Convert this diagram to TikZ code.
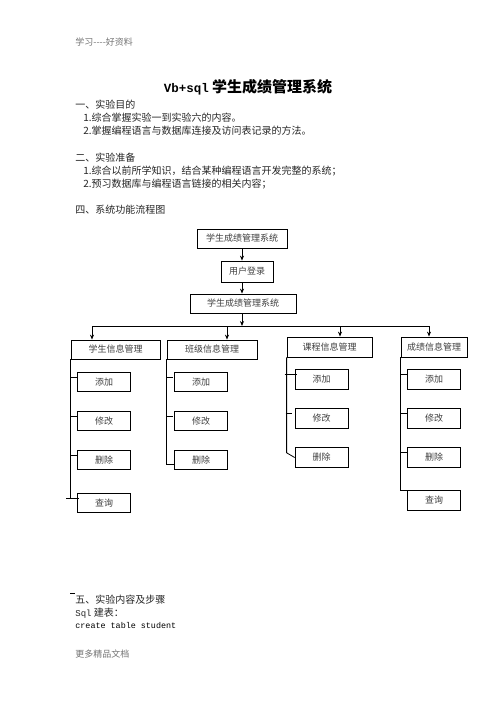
\documentclass[tikz,border=0pt]{standalone}
\usepackage{fontspec}
\setmainfont{Noto Sans CJK SC}
\newfontfamily\codefont{Liberation Mono}
\usepackage{tikz}
\usetikzlibrary{arrows.meta,arrows}
\usetikzlibrary{positioning}
\usetikzlibrary{calc}

\begin{document}
\begin{tikzpicture}[x=1pt,y=-1pt,>={Stealth[length=5pt,width=4pt]},node distance=39pt,line width=0.8pt]
 \tikzstyle{box node}=[rectangle,draw,inner sep=1,font=\fontsize{9}{10}\selectfont,text=black!75,minimum height=19pt]
 \tikzstyle{sub node}=[rectangle,draw,inner sep=1,font=\fontsize{9}{10}\selectfont,text=black!75,minimum width=53pt,minimum height=19.5pt]
 \tikzset{
 	line node/.style={anchor=west,inner sep=0,font=\fontsize{10}{12}\selectfont,text=black!85},
 	grey node/.style={anchor=west,inner sep=0,font=\fontsize{9}{11}\selectfont,text=black!55}
 }
 \path[use as bounding box,fill=white] (0,0) rectangle (496,702);

 % page text
       \node[grey node] (head) at (75,42) {学习-{}-{}-{}-好资料};
       \node (title) at (248,87) {\fontsize{15}{18}\selectfont\bfseries{\codefont\fontsize{12.5}{15}\selectfont Vb+sql} 学生成绩管理系统};
       \node[line node] (p1) at (75,105) {一、实验目的};
       \node[line node] (p1a) at (83,118) {1.综合掌握实验一到实验六的内容。};
       \node[line node] (p1b) at (83,131) {2.掌握编程语言与数据库连接及访问表记录的方法。};
       \node[line node] (p2) at (75,158) {二、实验准备};
       \node[line node] (p2a) at (83,171) {1.综合以前所学知识，结合某种编程语言开发完整的系统；};
       \node[line node] (p2b) at (83,184) {2.预习数据库与编程语言链接的相关内容；};
       \node[line node] (p4) at (75,210) {四、系统功能流程图};

 % flow chart, top
       \node[box node,minimum width=90pt] (s1) at (242,238.5) {学生成绩管理系统};
       \node[box node,minimum width=52pt,minimum height=21pt] (s2) at (247,271.5) {用户登录};
       \node[box node,minimum width=106pt] (s3) at (243,303.5) {学生成绩管理系统};

       \node[box node,minimum width=89pt] (m1) at (115.5,349.5) {学生信息管理};
       \node[box node,minimum width=90pt] (m2) at (212,349.5) {班级信息管理};
       \node[box node,minimum width=85pt,minimum height=20pt] (m3) at (329.5,347) {课程信息管理};
       \node[box node,minimum width=66pt,minimum height=20pt] (m4) at (434,347) {成绩信息管理};

       \coordinate (j1) at (92,326);
       \coordinate (j2) at (227,326);
       \coordinate (j3) at (340,326);
       \coordinate (j4) at (429,326);
       \coordinate (jend) at (430,326);

 % flow chart, columns
       \node[sub node] (a1) at (104,382) {添加};
       \node[sub node] (a2) [below of=a1] {修改};
       \node[sub node] (a3) [below of=a2] {删除};
       \node[sub node] (a4) [below of=a3,yshift=-4pt] {查询};

       \node[sub node] (b1) at (201,382) {添加};
       \node[sub node] (b2) [below of=b1] {修改};
       \node[sub node] (b3) [below of=b2] {删除};

       \node[sub node] (c1) at (321.5,379.5) {添加};
       \node[sub node] (c2) [below of=c1] {修改};
       \node[sub node] (c3) [below of=c2] {删除};

       \node[sub node] (d1) at (434,379.5) {添加};
       \node[sub node] (d2) [below of=d1] {修改};
       \node[sub node] (d3) [below of=d2] {删除};
       \node[sub node] (d4) [below of=d3,yshift=-4pt] {查询};

     \draw[->] (s1.south) -- (s1.south |- s2.north);
     \draw[->] (s1.south |- s2.south) -- (s1.south |- s3.north);
     \draw[->] (s1.south |- s3.south) -- (s1.south |- j1);
     \draw (j1) -- (jend);
     \draw[->] (j1) -- (j1 |- m1.north);
     \draw[->] (j2) -- (j2 |- m2.north);
     \draw[->] (j3) -- (j3 |- m3.north);
     \draw[->] (j4) -- (j4 |- m4.north);

     \draw (m1.south west) -- (m1.south west |- a4.170);
     \path (m1.south west |- a1.170) edge (a1.170);
     \path (m1.south west |- a2.170) edge (a2.170);
     \path (m1.south west |- a3.170) edge (a3.170);
     \draw ($(a4.170)+(-11,0)$) -- ($(a4.170)+(2,0)$);

     \draw (m2.south west) |- (b3.190);
     \draw (m2.south west |- b1.170) -- ++(6,0);
     \draw (m2.south west |- b2.170) -- ++(6,0);

     \draw (m3.south west) -- (m3.south west |- c3.170) -- (c3.west);
     \draw ($(m3.south west |- c1.170)+(-2,0)$) -- ($(c1.170)+(2,0)$);
     \draw ($(m3.south west |- c2.170)+(-1,0)$) -- ++(6,0);

     \draw (m4.south west) -- (m4.south west |- d4.north west) -- (d4.north west);
     \path (m4.south west |- d1.170) edge (d1.170);
     \path (m4.south west |- d2.170) edge (d2.170);
     \path (m4.south west |- d3.170) edge (d3.170);

 % page text, below
     \draw (70,593) -- (75,593);
       \node[line node] (p5) at (75,600) {五、实验内容及步骤};
       \node[line node] (p5a) at (75,613) {{\codefont\fontsize{9}{11}\selectfont Sql} 建表：};
       \node[line node,font=\codefont\fontsize{8.4}{10}\selectfont,text=black] (p5b) at (75,626) {create table student};
       \node[grey node] (foot) at (75,654) {更多精品文档};
\end{tikzpicture}
\end{document}
